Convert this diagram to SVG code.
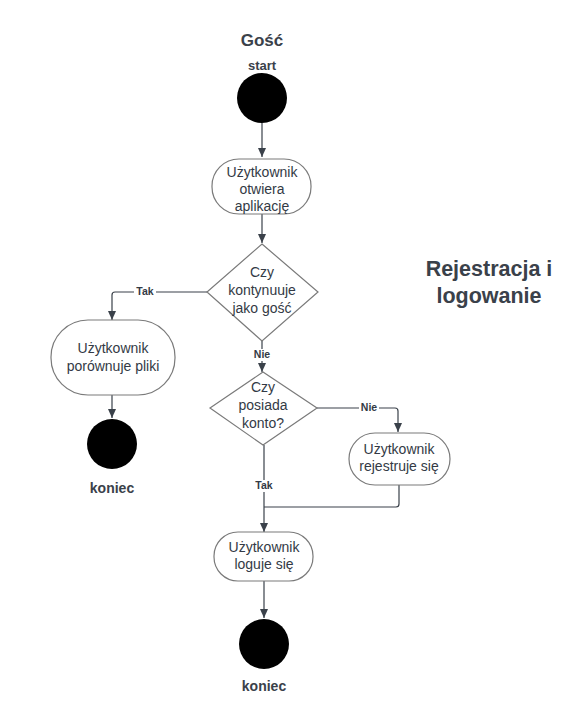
<svg xmlns="http://www.w3.org/2000/svg" width="574" height="703" viewBox="0 0 574 703">
<defs>
<marker id="ah" markerWidth="10" markerHeight="10" refX="9" refY="5" orient="auto" markerUnits="userSpaceOnUse">
<path d="M0,1 L9,5 L0,9 Z" fill="#3a414a"/>
</marker>
<style>
.node{fill:#fff;stroke:#7a7a7a;stroke-width:1.2}
.dot{fill:#000}
.t{font-family:"Liberation Sans",Arial,sans-serif;font-size:14px;fill:#333a45;text-anchor:middle}
.b{font-family:"Liberation Sans",Arial,sans-serif;font-weight:bold;fill:#3a414a;text-anchor:middle}
.c{fill:none;stroke:#3a414a;stroke-width:1.2}
.lbl{font-family:"Liberation Sans",Arial,sans-serif;font-weight:bold;font-size:10.5px;fill:#333a45;text-anchor:middle}
.lb{fill:#fff}
</style>
</defs>
<rect width="574" height="703" fill="#fff"/>
<g id="title">
<text class="b" x="262" y="46" font-size="17">Gość</text>
<text class="b" x="489" y="276" font-size="21.5">Rejestracja i</text>
<text class="b" x="489" y="303" font-size="21.5">logowanie</text>
</g>
<g id="connectors">
<path class="c" d="M262,123 V157" marker-end="url(#ah)"/>
<path class="c" d="M262,214 V243" marker-end="url(#ah)"/>
<path class="c" d="M207,292 H115 Q112,292 112,295 V320" marker-end="url(#ah)"/>
<path class="c" d="M112,395 V418" marker-end="url(#ah)"/>
<path class="c" d="M262,341 V372" marker-end="url(#ah)"/>
<path class="c" d="M317,408 H395 Q398,408 398,411 V432" marker-end="url(#ah)"/>
<path class="c" d="M264,445 V532" marker-end="url(#ah)"/>
<path class="c" d="M399,485 V504 Q399,507 396,507 H264"/>
<path class="c" d="M264,581 V618" marker-end="url(#ah)"/>
<rect class="lb" x="134" y="286" width="22" height="12"/>
<text class="lbl" x="145" y="295">Tak</text>
<rect class="lb" x="252" y="349" width="20" height="12"/>
<text class="lbl" x="262" y="358">Nie</text>
<rect class="lb" x="359" y="402" width="20" height="12"/>
<text class="lbl" x="369" y="411">Nie</text>
<rect class="lb" x="253" y="480" width="22" height="12"/>
<text class="lbl" x="264" y="489">Tak</text>
</g>
<g id="start">
<text class="b" x="262" y="70" font-size="13">start</text>
<circle class="dot" cx="262" cy="98" r="25"/>
</g>
<g id="otwiera">
<rect class="node" x="212" y="159" width="99" height="55" rx="27" ry="27"/>
<text class="t" x="262" y="177">Użytkownik</text>
<text class="t" x="262" y="194">otwiera</text>
<text class="t" x="262" y="211">aplikację</text>
</g>
<g id="gosc">
<path class="node" d="M262,244 L318,292 L262,341 L207,292 Z"/>
<text class="t" x="262" y="277">Czy</text>
<text class="t" x="262" y="295">kontynuuje</text>
<text class="t" x="262" y="313">jako gość</text>
</g>
<g id="porownuje">
<rect class="node" x="51" y="320" width="124" height="75" rx="37" ry="37"/>
<text class="t" x="113" y="353">Użytkownik</text>
<text class="t" x="113" y="371">porównuje pliki</text>
</g>
<g id="koniec1">
<circle class="dot" cx="112" cy="444" r="25"/>
<text class="b" x="112" y="493" font-size="14">koniec</text>
</g>
<g id="konto">
<path class="node" d="M263,372 L317,408 L263,445 L210,408 Z"/>
<text class="t" x="263" y="392">Czy</text>
<text class="t" x="263" y="410">posiada</text>
<text class="t" x="263" y="428">konto?</text>
</g>
<g id="rejestruje">
<rect class="node" x="349" y="433" width="101" height="52" rx="26" ry="26"/>
<text class="t" x="399" y="454">Użytkownik</text>
<text class="t" x="399" y="471">rejestruje się</text>
</g>
<g id="loguje">
<rect class="node" x="214" y="532" width="99" height="49" rx="24" ry="24"/>
<text class="t" x="264" y="552">Użytkownik</text>
<text class="t" x="264" y="569">loguje się</text>
</g>
<g id="koniec2">
<circle class="dot" cx="264" cy="644" r="25"/>
<text class="b" x="264" y="691" font-size="14">koniec</text>
</g>
</svg>
